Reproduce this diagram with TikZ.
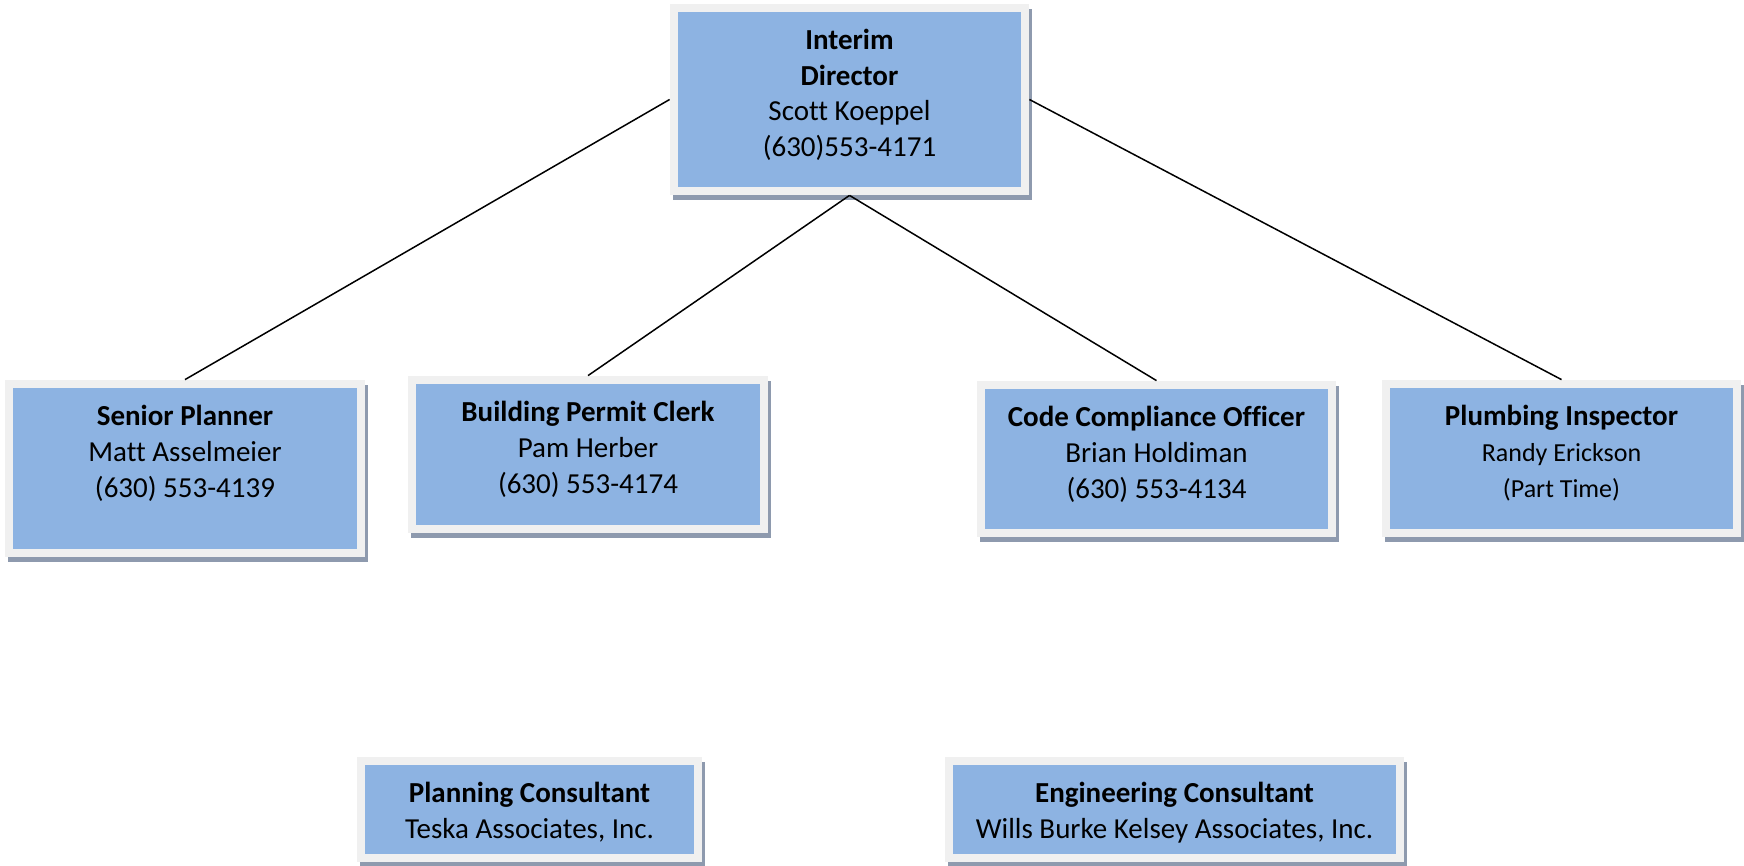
\documentclass[tikz,border=0pt]{standalone}
\usepackage{fontspec}
\setmainfont{Carlito}[Ligatures=NoCommon]
\usetikzlibrary{fit}
\definecolor{boxblue}{HTML}{8DB3E2}
\definecolor{boxframe}{HTML}{F0F0F0}
\definecolor{boxshade}{HTML}{8E9AAE}
\tikzset{
  boxtext/.style={inner sep=0pt, align=center, text=black,
    font=\fontsize{14.5}{17.9}\selectfont},
  link/.style={draw=black, line width=0.75pt},
}
\newcommand\smallline{\fontsize{13}{17}\selectfont}
% #1 name, #2..#5 outer corners (px), #6 text
\newcommand\orgbox[6]{%
  \fill[boxshade] (#2+3,#3+5) rectangle (#4+3,#5+5);
  \node[fit={(#2,#3) (#4,#5)}, inner sep=0pt, fill=boxframe] (#1) {};
  \fill[boxblue] (#2+8,#3+8) rectangle (#4-8,#5-8);
  \node[boxtext, anchor=north] (#1-text) at ({(#2+#4)/2},#3+5) {\rule{0pt}{20pt}#6};
}
\begin{document}
\begin{tikzpicture}[x=0.5pt, y=-0.5pt]
  \useasboundingbox[fill=white] (0,0) rectangle (1744,866);

  \orgbox{dir}{670}{4}{1029}{195}{\textbf{Interim}\\\textbf{Director}\\Scott Koeppel\\(630)553-4171}
  \orgbox{sp}{5}{380}{365}{557}{\textbf{Senior Planner}\\Matt Asselmeier\\(630) 553-4139}
  \orgbox{bpc}{408}{376}{768}{533}{\textbf{Building Permit Clerk}\\Pam Herber\\(630) 553-4174}
  \orgbox{cco}{977}{381}{1336}{537}{\textbf{Code Compliance Officer}\\Brian Holdiman\\(630) 553-4134}
  \orgbox{pi}{1382}{380}{1741}{537}{\textbf{Plumbing Inspector}\\\smallline Randy Erickson\\\smallline (Part Time)}
  \orgbox{pc}{357}{757}{702}{862}{\textbf{Planning Consultant}\\Teska Associates, Inc.}
  \orgbox{ec}{945}{757}{1404}{862}{\textbf{Engineering Consultant}\\Wills Burke Kelsey Associates, Inc.}

  \draw[link] (dir.west) -- (sp.north);
  \draw[link] (dir.south) -- (bpc.north);
  \draw[link] (dir.south) -- (cco.north);
  \draw[link] (dir.east) -- (pi.north);
\end{tikzpicture}
\end{document}
